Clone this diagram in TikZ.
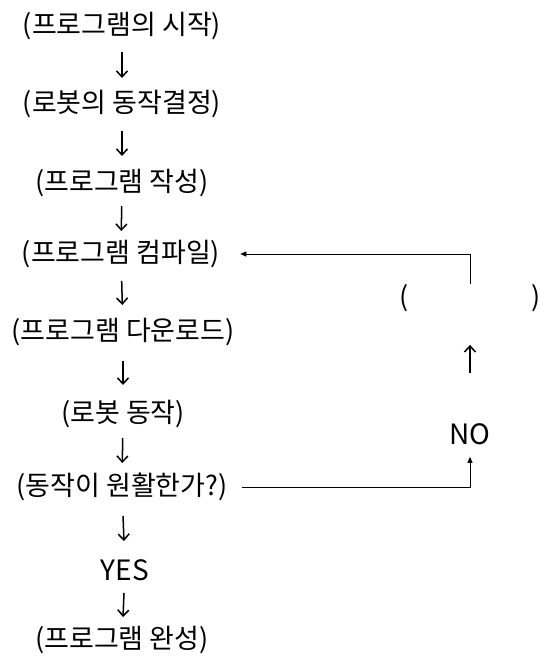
\documentclass[tikz,border=0pt]{standalone}
\usepackage{fontspec}
\setmainfont{Noto Sans CJK KR}
\usetikzlibrary{arrows.meta}
\begin{document}
\begin{tikzpicture}[x=1pt,y=-1pt,
  lbl/.style={inner sep=0pt, font=\fontsize{27}{30}\selectfont},
  eng/.style={inner sep=0pt, font=\fontsize{28}{30}\selectfont},
  dn/.style={line width=1.5pt, -{Straight Barb[length=6pt,width=11pt,line width=1.5pt]}, shorten <=#1, shorten >=#1},
  conn/.style={line width=0.9pt, -{Triangle[length=6pt,width=5pt]}}]
\useasboundingbox (0,0) rectangle (539,658);
\node[lbl] (start) at (122,26) {(프로그램의 시작)};
\node[lbl] (decide) at (122,104) {(로봇의 동작결정)};
\node[lbl] (write) at (122,183) {(프로그램 작성)};
\node[lbl] (compile) at (121,254) {(프로그램 컴파일)};
\node[lbl] (download) at (123,332) {(프로그램 다운로드)};
\node[lbl] (run) at (123,414) {(로봇 동작)};
\node[lbl] (test) at (122,487) {(동작이 원활한가?)};
\node[eng] (yes) at (125,570) {YES};
\node[lbl] (done) at (122,640) {(프로그램 완성)};
\node[lbl] (blank) at (470,298) {(\hspace{122pt})};
\node[eng] (no) at (470,434) {NO};
\draw[dn=26pt] (start.center) -- (decide.center);
\draw[dn=27pt] (decide.center) -- (write.center);
\draw[dn=23pt] (write.center) -- (compile.center);
\draw[dn=27pt] (compile.center) -- (download.center);
\draw[dn=29pt] (download.center) -- (run.center);
\draw[dn=24pt] (run.center) -- (test.center);
\draw[dn=29pt] (test.center) -- (yes.center);
\draw[dn=23pt] (yes.center) -- (done.center);
\draw[line width=1.5pt, -{Straight Barb[length=6pt,width=11pt,line width=1.5pt]}, shorten <=50pt, shorten >=33pt] (no.north) -- (blank.south);
\draw[conn, shorten >=20pt] (blank.north) |- (compile.east);
\draw[conn, shorten >=12pt] ([xshift=14pt]test.east) -| (no.south);
\end{tikzpicture}
\end{document}
